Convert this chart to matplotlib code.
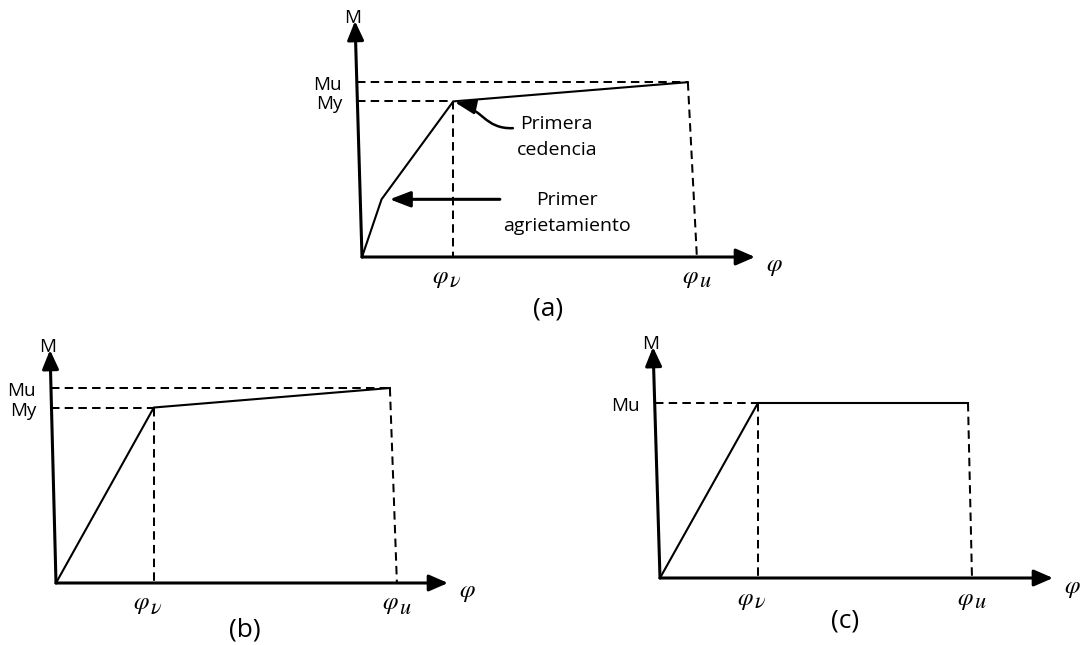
import matplotlib
matplotlib.use('Agg')
import matplotlib.pyplot as plt
from matplotlib.patches import FancyArrowPatch
from matplotlib.path import Path

plt.rcParams['font.family'] = ['Open Sans', 'DejaVu Sans']
plt.rcParams['mathtext.fontset'] = 'stix'

W, H = 1082, 645

# moment-curvature curves, phi_u and Mu normalised to 10
phi_a = [0.0, 0.6, 2.8, 10.0]
M_a = [0.0, 3.3, 8.9, 10.0]

phi_b = [0.0, 2.93, 10.0]
M_b = [0.0, 9.0, 10.0]

phi_c = [0.0, 3.18, 10.0]
M_c = [0.0, 10.0, 10.0]

panel_names = ['(a)', '(b)', '(c)']
m_labels = ['Mu', 'My']
# curvature labels as (symbol, subscript)
phi_labels = [(r'$\varphi$', r'$\nu$'), (r'$\varphi$', r'$u$')]

fig = plt.figure(figsize=(W / 100, H / 100), dpi=100)
fig.patch.set_facecolor('white')

AX_LW = 2.2
CURVE_LW = 1.5
DASH_LW = 1.45
DASH = (0, (4.2, 2.6))


def arrow(ax, start, end, lw=AX_LW, hl=1.15, hw=0.5):
    ax.annotate('', xy=end, xytext=start,
                arrowprops=dict(arrowstyle='-|>,head_length=%g,head_width=%g' % (hl, hw),
                                mutation_scale=10, lw=lw, color='k',
                                shrinkA=0, shrinkB=0),
                annotation_clip=False)


def sub_label(ax, xy, dx, label):
    base, sub = label
    ax.annotate(base, xy=xy, xytext=(dx + 1, -21), textcoords='offset pixels',
                ha='right', va='center', fontsize=18, annotation_clip=False)
    ax.annotate(sub, xy=xy, xytext=(dx + 1, -25), textcoords='offset pixels',
                ha='left', va='center', fontsize=16, annotation_clip=False)


def draw_panel(origin_px, size_px, x_end, y_end, phi, M, lean_px, drop_px,
               caption, caption_px, two_levels=True):
    ox, oy = origin_px
    wx, hy = size_px
    ax = fig.add_axes([ox / W, 1 - oy / H, wx / W, hy / H])
    ax.set_xlim(0, x_end)
    ax.set_ylim(0, y_end)
    ax.axis('off')
    sx = wx / x_end
    lean = lean_px / sx

    phi_y, phi_u = phi[-2], phi[-1]
    My, Mu = M[-2], M[-1]

    # axes with arrow heads
    arrow(ax, (0, 0), (x_end, 0))
    arrow(ax, (0, 0), (lean, y_end))

    # curve
    ax.plot(phi, M, color='k', lw=CURVE_LW, solid_joinstyle='miter',
            clip_on=False, zorder=3)

    # reference lines
    ax.plot([lean * Mu / y_end, phi_u], [Mu, Mu], color='k', lw=DASH_LW,
            linestyle=DASH, clip_on=False)
    if two_levels:
        ax.plot([lean * My / y_end, phi_y], [My, My], color='k', lw=DASH_LW,
                linestyle=DASH, clip_on=False)
    ax.plot([phi_y, phi_y], [My, 0], color='k', lw=DASH_LW, linestyle=DASH,
            clip_on=False)
    drop = drop_px / sx
    ax.plot([phi_u, phi_u + drop], [Mu, 0], color='k', lw=DASH_LW,
            linestyle=DASH, clip_on=False)

    # level labels
    levels = [Mu, My] if two_levels else [Mu]
    for lab, lev in zip(m_labels, levels):
        ax.annotate(lab, xy=(lean * lev / y_end, lev), xytext=(-15, -3),
                    textcoords='offset pixels', ha='right', va='center',
                    fontsize=13.5, annotation_clip=False)

    ax.annotate('M', xy=(lean, y_end), xytext=(-2, 3), textcoords='offset pixels',
                ha='center', va='center', fontsize=13.5, annotation_clip=False)
    ax.annotate(r'$\varphi$', xy=(x_end, 0), xytext=(19, -9),
                textcoords='offset pixels', ha='center', va='center',
                fontsize=18, annotation_clip=False)
    sub_label(ax, (phi_y, 0), -5, phi_labels[0])
    sub_label(ax, (phi_u + drop, 0), 1, phi_labels[1])

    fig.text(caption_px[0] / W, 1 - caption_px[1] / H, caption, ha='center',
             va='center', fontsize=19)
    return ax


ax_a = draw_panel((362, 257), (393, 236), 12.06, 13.5, phi_a, M_a, -7, 9,
                  panel_names[0], (548, 309))
ax_b = draw_panel((56, 583), (392, 233), 11.74, 11.95, phi_b, M_b, -6, 7,
                  panel_names[1], (245, 630))
ax_c = draw_panel((660, 578), (393, 231), 12.76, 13.2, phi_c, M_c, -7, 4,
                  panel_names[2], (845, 621), two_levels=False)

# notes on curve (a): S-shaped pointer to first yield
hook = Path([(4.63, 7.37), (3.77, 7.31), (3.68, 8.51), (phi_a[2] + 0.05, M_a[2] - 0.05)],
            [Path.MOVETO, Path.CURVE4, Path.CURVE4, Path.CURVE4])
ax_a.add_patch(FancyArrowPatch(path=hook, arrowstyle='-|>,head_length=1.25,head_width=0.45',
                               mutation_scale=10, lw=1.8, color='k',
                               transform=ax_a.transData, clip_on=False))
ax_a.text(5.98, 6.86, 'Primera\ncedencia', ha='center', va='center',
          fontsize=14, linespacing=1.55)

arrow(ax_a, (4.23, M_a[1]), (phi_a[1] + 0.25, M_a[1]), lw=2.2, hl=1.25, hw=0.48)
ax_a.text(6.29, 2.51, 'Primer\nagrietamiento', ha='center', va='center',
          fontsize=14, linespacing=1.55)

fig.savefig('out.png', dpi=100, facecolor='white')
